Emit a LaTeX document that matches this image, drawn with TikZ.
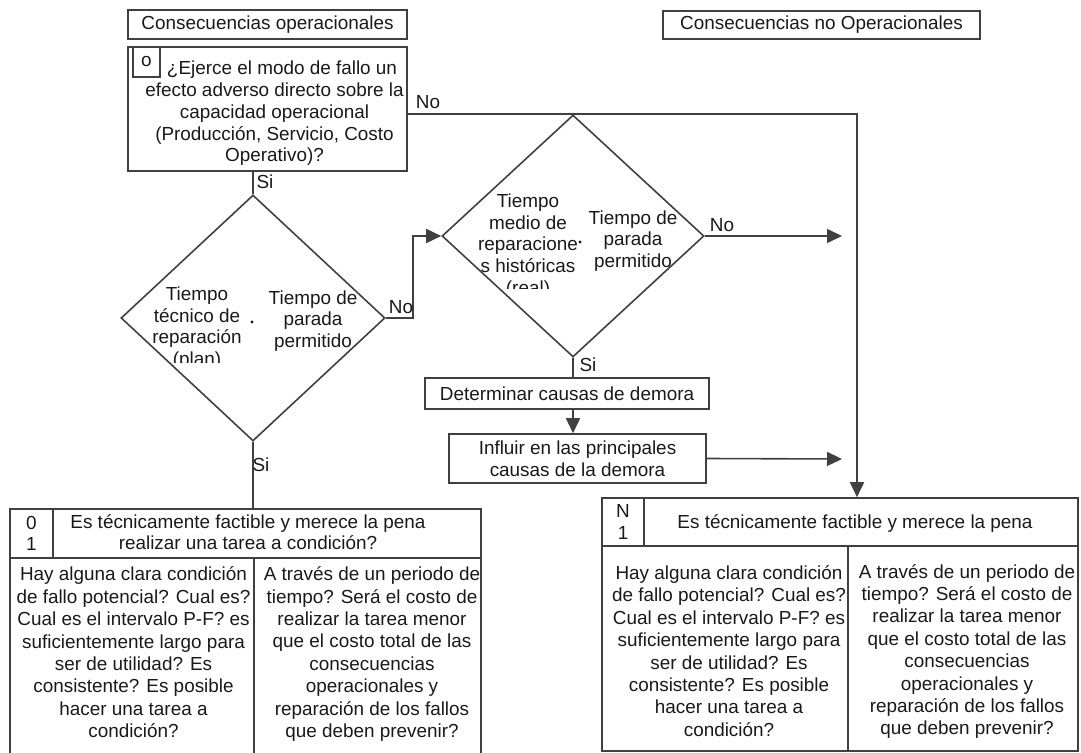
\documentclass[tikz,border=0pt]{standalone}
\usepackage{fontspec}
\setmainfont{Liberation Sans}
\usetikzlibrary{shapes.geometric,arrows.meta,fit}
\definecolor{linea}{RGB}{64,64,64}
\definecolor{texto}{RGB}{25,25,25}

\begin{document}
\begin{tikzpicture}[x=0.5pt,y=-0.5pt,
    caja/.style={draw=linea, line width=0.8pt, inner sep=0pt},
    rombo/.style={draw=linea, line width=0.8pt, diamond, inner sep=0pt},
    txt/.style={inner sep=0pt, text=texto, align=center},
    columna/.style={txt, font=\fontsize{9.45}{11.2}\selectfont},
    conector/.style={draw=linea, line width=0.8pt},
    flecha/.style={conector, -{Triangle[length=7.5pt,width=7pt]}},
    punto/.style={circle, fill=texto, inner sep=0pt, minimum size=1.6pt},
    every node/.append style={font=\fontsize{9.45}{10.85}\selectfont}]
    \clip (0,0) rectangle (1081,753);

    % Encabezados
    \node[caja, fit={(128,10) (407,39)}, label={[txt]center:Consecuencias operacionales}] (encop) {};
    \node[caja, fit={(663,11) (980,39)}, label={[txt]center:Consecuencias no Operacionales}] (encnop) {};

    % Pregunta O
    \node[caja, fit={(128,47) (407,171)}] (preg) {};
    \node[caja, fit={(133,47) (160,77)}, label={[txt]center:o}] (pregnum) {};
    \node[txt] (pregtxt) at (274.5,113.5) {\hspace*{7.5pt}¿Ejerce el modo de fallo un\\efecto adverso directo sobre la\\capacidad operacional\\(Producción, Servicio, Costo\\Operativo)?};

    % Rombos
    \node[rombo, minimum width=132pt, minimum height=123pt] (rombo1) at (253,318) {};
    \node[rombo, minimum width=131pt, minimum height=121pt] (rombo2) at (573,236) {};

    \begin{scope}
      \clip (130,270) rectangle (262,363);
      \node[txt] (r1izq) at (197,328) {Tiempo\\técnico de\\reparación\\(plan)};
    \end{scope}
    \node[txt] (r1der) at (313,321) {Tiempo de\\parada\\permitido};
    \node[punto] (r1pto) at (252,322) {};

    \begin{scope}
      \clip (460,180) rectangle (600,289);
      \node[txt] (r2izq) at (528,246) {Tiempo\\medio de\\reparacione\\s históricas\\(real)};
    \end{scope}
    \node[txt] (r2der) at (633,241) {Tiempo de\\parada\\permitido};
    \node[punto] (r2pto) at (580,242) {};

    % Cajas intermedias
    \node[caja, fit={(425,378) (709,409)}, label={[txt]center:Determinar causas de demora}] (determ) {};
    \node[caja, fit={(449,434) (706,483)}, label={[txt]center:{Influir en las principales\\causas de la demora}}] (influir) {};

    % Tabla O1
    \node[caja, fit={(10,509) (53,558)}, label={[txt]center:{0\\1}}] (o1num) {};
    \node[caja, fit={(53,509) (481,558)}] (o1cab) {};
    \node[caja, fit={(10,558) (254,770)}] (o1izq) {};
    \node[caja, fit={(254,558) (481,770)}] (o1der) {};
    \node[txt] (o1cabtxt) at (248,532) {Es técnicamente factible y merece la pena\\realizar una tarea a condición?};
    \node[columna] (o1izqtxt) at (133.5,652.5) {Hay alguna clara condición\\de fallo potencial? Cual es?\\Cual es el intervalo P-F? es\\suficientemente largo para\\ser de utilidad? Es\\consistente? Es posible\\hacer una tarea a\\condición?};
    \node[columna] (o1dertxt) at (372,654) {A través de un periodo de\\tiempo? Será el costo de\\realizar la tarea menor\\que el costo total de las\\consecuencias\\operacionales y\\reparación de los fallos\\que deben prevenir?};

    % Tabla N1
    \node[caja, fit={(602,498) (644,546)}, label={[txt]center:{N\\1}}] (n1num) {};
    \node[caja, fit={(644,498) (1078,546)}] (n1cab) {};
    \node[caja, fit={(602,546) (848,751)}] (n1izq) {};
    \node[caja, fit={(848,546) (1078,751)}] (n1der) {};
    \node[txt] (n1cabtxt) at (855,524) {Es técnicamente factible y merece la pena};
    \node[columna] (n1izqtxt) at (729,651) {Hay alguna clara condición\\de fallo potencial? Cual es?\\Cual es el intervalo P-F? es\\suficientemente largo para\\ser de utilidad? Es\\consistente? Es posible\\hacer una tarea a\\condición?};
    \node[columna] (n1dertxt) at (967,651.5) {A través de un periodo de\\tiempo? Será el costo de\\realizar la tarea menor\\que el costo total de las\\consecuencias\\operacionales y\\reparación de los fallos\\que deben prevenir?};

    % Conectores
    \coordinate (esq) at (857,114);
    \coordinate (meta) at (842,459);
    \draw[flecha] (preg.east |- esq) -- (esq) -- (esq |- n1cab.north);
    \draw[conector] (preg.south -| rombo1.north) -- (rombo1.north);
    \draw[flecha] (rombo1.east) -- ++(27,0) |- (rombo2.west);
    \draw[flecha] (rombo2.east) -- (rombo2.east -| meta);
    \draw[conector] (rombo2.south) -- (rombo2.south |- determ.north);
    \draw[flecha] (rombo2.south |- determ.south) -- (rombo2.south |- influir.north);
    \draw[flecha] (influir.east) -- (meta);
    \draw[conector] (rombo1.south) -- (rombo1.south |- o1cab.north);

    % Etiquetas Si / No
    \node[txt] (no1) at (428,102) {No};
    \node[txt] (si1) at (265,182) {Si};
    \node[txt] (no2) at (401,307) {No};
    \node[txt] (no3) at (722,225) {No};
    \node[txt] (si2) at (588,365) {Si};
    \node[txt] (si3) at (261,465) {Si};
\end{tikzpicture}
\end{document}
